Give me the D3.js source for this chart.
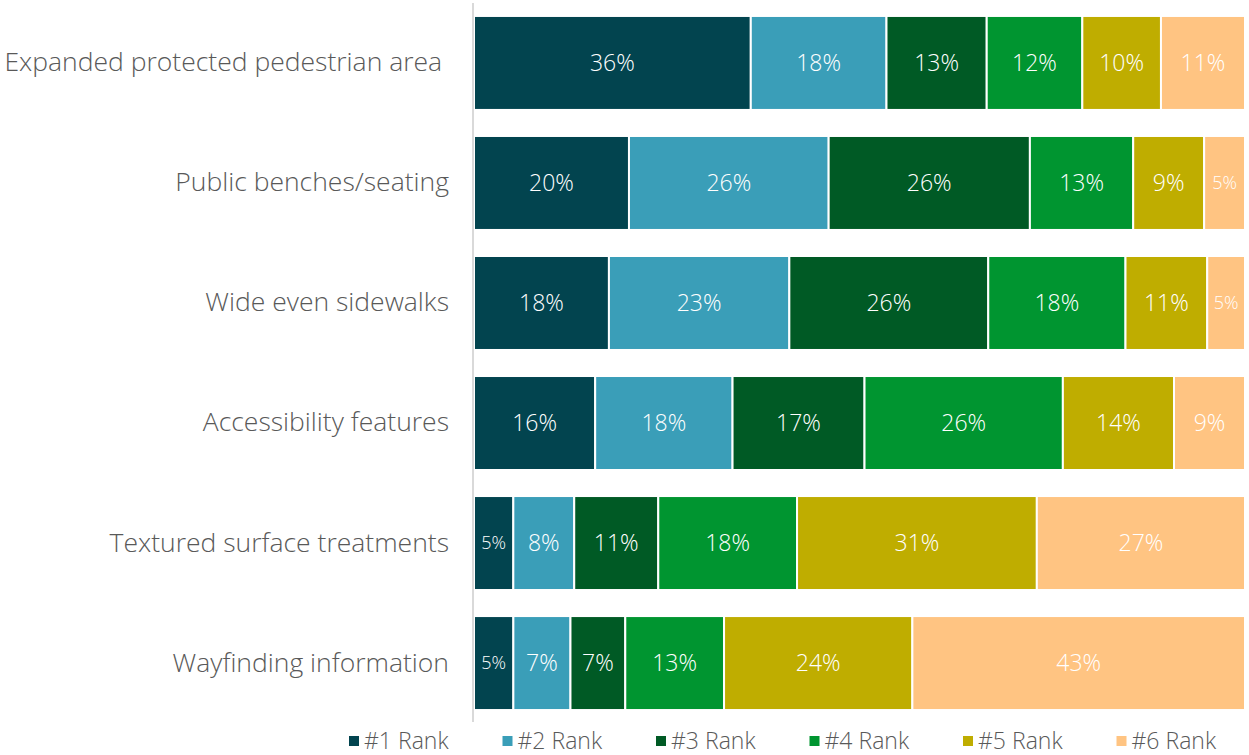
<!DOCTYPE html>
<html>
<head>
<meta charset="utf-8">
<script src="https://cdn.jsdelivr.net/npm/d3@7"></script>
<style>
  body { margin: 0; background: #fff; }
  svg { font-family: "Open Sans", Lato, sans-serif; font-weight: 300; }
</style>
</head>
<body>
<svg width="1249" height="755"></svg>
<script>
// categories (top to bottom)
var categories = ["Expanded protected pedestrian area ", "Public benches/seating", "Wide even sidewalks",
                  "Accessibility features", "Textured surface treatments", "Wayfinding information"];
var ranks = ["#1 Rank", "#2 Rank", "#3 Rank", "#4 Rank", "#5 Rank", "#6 Rank"];

// share of respondents per rank, one array per rank (same order as categories)
var rank1 = [35.9, 20.1, 17.5, 15.7, 5.1, 5.1];
var rank2 = [17.6, 25.9, 23.4, 17.8, 7.9, 7.4];
var rank3 = [13.0, 26.1, 25.8, 17.1, 10.9, 7.1];
var rank4 = [12.4, 13.4, 17.8, 25.7, 18.0, 12.8];
var rank5 = [10.2, 9.2, 10.6, 14.4, 31.1, 24.4];
var rank6 = [10.9, 5.3, 4.9, 9.2, 27.0, 43.1];

var colors = ["#02444F", "#3A9EB8", "#005A25", "#009530", "#BFAD00", "#FFC482"];

var svg = d3.select("svg"),
    left = 474, right = 1245;

var series = [rank1, rank2, rank3, rank4, rank5, rank6];

// build table rows for the stack
var table = categories.map(function(c, i) {
    var row = { cat: c };
    ranks.forEach(function(r, j) { row[r] = series[j][i]; });
    return row;
});

var stack = d3.stack().keys(ranks).offset(d3.stackOffsetExpand);
var stacked = stack(table);

var x = d3.scaleLinear().domain([0, 1]).range([left, right]);
var y = d3.scaleBand().domain(categories).range([3, 723]).paddingInner(0.217).paddingOuter(0.108);

var layer = svg.selectAll(".layer")
    .data(stacked)
    .enter().append("g")
    .attr("class", "layer")
    .attr("fill", function(d, i) { return colors[i]; });

layer.selectAll("rect")
    .data(function(d) { return d; })
    .enter().append("rect")
    .attr("x", function(d) { return x(d[0]); })
    .attr("y", function(d) { return y(d.data.cat); })
    .attr("width", function(d) { return x(d[1]) - x(d[0]); })
    .attr("height", y.bandwidth())
    .attr("stroke", "#fff")
    .attr("stroke-width", 2);

layer.selectAll("text")
    .data(function(d) { return d.map(function(p) { return { p: p, key: d.key }; }); })
    .enter().append("text")
    .attr("x", function(d) { return (x(d.p[0]) + x(d.p[1])) / 2; })
    .attr("y", function(d) { return y(d.p.data.cat) + y.bandwidth() / 2; })
    .attr("dy", "0.35em")
    .attr("text-anchor", "middle")
    .attr("fill", "#fff")
    .style("font-size", function(d) { return (x(d.p[1]) - x(d.p[0])) < 45 ? "18px" : "23px"; })
    .text(function(d) { return Math.round(d.p.data[d.key]) + "%"; });

// category axis
var yAxis = svg.append("g")
    .attr("transform", "translate(" + (left - 1) + ",0)")
    .call(d3.axisLeft(y).tickSize(0).tickPadding(24));
yAxis.select(".domain").attr("stroke", "#d9d9d9").attr("stroke-width", 2).attr("d", "M0,3V722");
yAxis.selectAll("text")
    .attr("fill", "#595959")
    .style("white-space", "pre")
    .style("font-size", "26.5px")
    .style("font-family", "'Open Sans', Lato, sans-serif")
    .style("font-weight", 300);

// legend
var legend = svg.append("g").selectAll("g")
    .data(ranks)
    .enter().append("g")
    .attr("transform", function(d, i) { return "translate(" + (349 + i * 153.5) + ",741)"; });

legend.append("rect")
    .attr("x", 0).attr("y", -5)
    .attr("width", 10).attr("height", 10)
    .attr("fill", function(d, i) { return colors[i]; });

legend.append("text")
    .attr("x", 15)
    .attr("dy", "0.35em")
    .attr("fill", "#595959")
    .style("font-size", "23px")
    .text(function(d) { return d; });
</script>
</body>
</html>
